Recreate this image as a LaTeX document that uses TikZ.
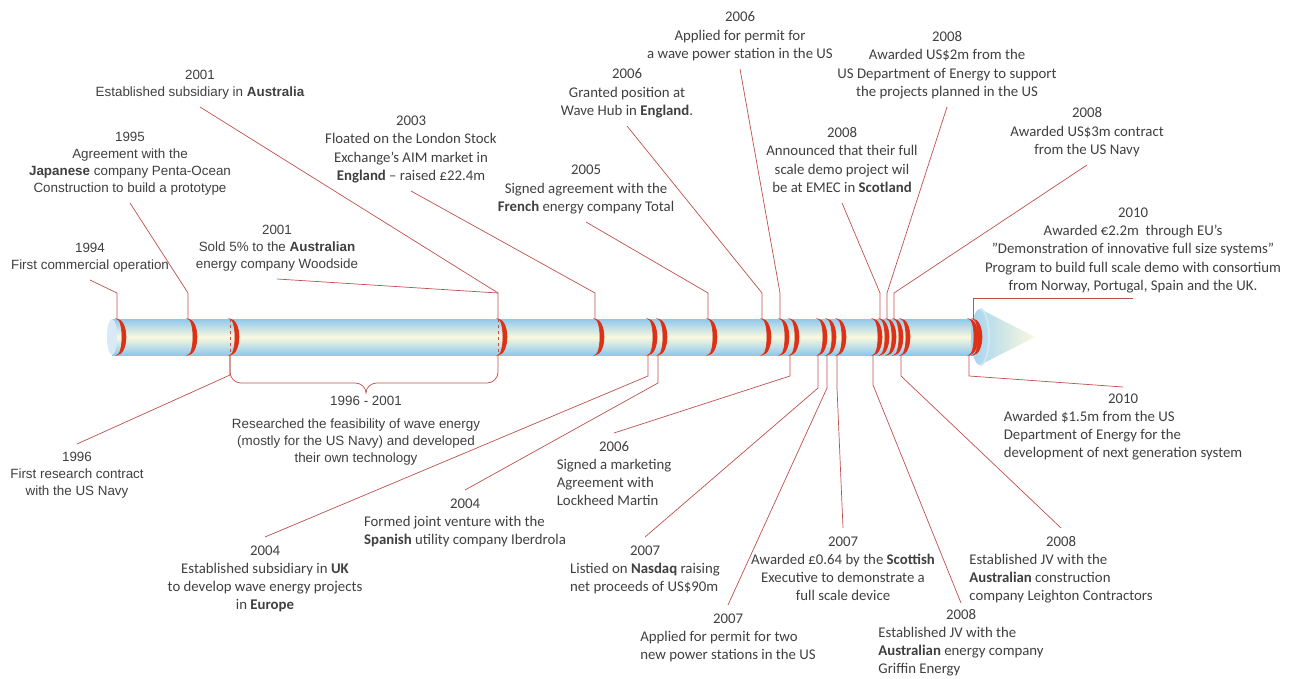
\documentclass[tikz,border=0pt]{standalone}
\usepackage{fontspec}
\usepackage{tikz}
\usetikzlibrary{positioning,calc}
\newfontfamily\arialfont{Liberation Sans}
\newfontfamily\calfont{Carlito}
\definecolor{txtgray}{RGB}{64,64,64}
\definecolor{ringred}{RGB}{222,48,22}
\definecolor{leadred}{RGB}{192,80,77}
\definecolor{tubeblue}{RGB}{143,200,236}
\definecolor{tubecream}{RGB}{250,249,222}
\definecolor{capblue}{RGB}{218,233,246}
\newcommand{\evc}[2]{\begin{tabular}{@{}c@{}}#1\\#2\end{tabular}}
\newcommand{\evl}[2]{\begin{tabular}{@{}l@{}}\multicolumn{1}{@{}c@{}}{#1}\\#2\end{tabular}}
\newcommand{\ring}[1]{\filldraw[ring] (#1,319) arc[start angle=-90, end angle=90, x radius=9, y radius=18] arc[start angle=90, end angle=-90, x radius=5, y radius=18] -- cycle;}

\begin{document}
\begin{tikzpicture}[x=1pt, y=-1pt,
    every node/.style={text=txtgray, inner sep=5pt},
    arl/.style={font=\arialfont\fontsize{13.4}{17}\selectfont},
    cal/.style={font=\calfont\fontsize{14.8}{18.3}\selectfont},
    ring/.style={fill=ringred, draw=ringred, line width=0.6pt},
    leader/.style={draw=leadred, line width=0.7pt}]
    \useasboundingbox (0,0) rectangle (1289,679);
    \fill[white] (0,0) rectangle (1289,679);

    % the tube and its head
    \shade[top color=tubeblue, bottom color=tubeblue, middle color=tubecream] (112,319) rectangle (978,355);
    \fill[capblue] (112,337) ellipse[x radius=5, y radius=18];
    \shade[left color=tubeblue!80, right color=tubecream] (980,309) -- (1035,337) -- (980,365) arc[start angle=90, end angle=270, x radius=9, y radius=28] -- cycle;
    \draw[white!55!tubeblue, line width=2pt] (980,309) arc[start angle=270, end angle=450, x radius=9, y radius=28];

    % rings
    \draw[leadred, dashed, line width=0.8pt] (230,319) -- (230,355);
    \draw[leadred, dashed, line width=0.8pt] (498,319) -- (498,355);
    \foreach \x/\n in {117/94, 188/95, 230/96, 498/01, 595/03, 648/04a, 658/04b, 708/05,
        762/06a, 780/06b, 790/06c, 818/07a, 827/07b, 837/07c,
        873/08a, 880/08b, 887/08c, 894/08d, 901/08e, 969/10a, 973/10b} {
        \ring{\x}
        \coordinate (r\n) at (\x,319);
        \coordinate (q\n) at (\x,355);
    }

    % events above the tube
    \node[arl, anchor=south] (t94) at (90,280) {\evc{1994}{First commercial operation}};
    \node[arl, anchor=south] (t95) at (130,203) {\evc{1995}{Agreement with the\\\textbf{Japanese} company Penta-Ocean\\Construction to build a prototype}};
    \node[arl, anchor=south] (t01a) at (200,107) {\evc{2001}{Established subsidiary in \textbf{Australia}}};
    \node[arl, anchor=south] (t01b) at (277,279) {\evc{2001}{Sold 5\% to the \textbf{Australian}\\energy company Woodside}};
    \node[cal, anchor=south] (t03) at (411,191) {\evc{2003}{Floated on the London Stock\\Exchange’s AIM market in\\\textbf{England} – raised £22.4m}};
    \node[cal, anchor=south] (t05) at (586,222) {\evc{2005}{Signed agreement with the\\\textbf{French} energy company Total}};
    \node[cal, anchor=south] (t06a) at (627,126) {\evc{2006}{Granted position at\\Wave Hub in \textbf{England}.}};
    \node[cal, anchor=south] (t06b) at (740,69) {\evc{2006}{Applied for permit for\\a wave power station in the US}};
    \node[cal, anchor=south] (t08a) at (842,203) {\evc{2008}{Announced that their full\\scale demo project wil\\be at EMEC in \textbf{Scotland}}};
    \node[cal, anchor=south] (t08b) at (947,107) {\evc{2008}{Awarded US\$2m from the\\US Department of Energy to support\\the projects planned in the US}};
    \node[cal, anchor=south] (t08c) at (1087,165) {\evc{2008}{Awarded US\$3m contract\\from the US Navy}};
    \node[cal, anchor=south, inner sep=2pt] (t10a) at (1133,298) {\evc{2010}{Awarded €2.2m\ \ through EU’s\\”Demonstration of innovative full size systems”\\Program to build full scale demo with consortium\\from Norway, Portugal, Spain and the UK.}};

    % events below the tube
    \node[arl, anchor=north] (b96) at (77,444) {\evc{1996}{First research contract\\with the US Navy}};
    \node[arl, anchor=north, inner sep=3pt] (lbl) at (366,393) {1996 - 2001};
    \node[arl, below=3pt of lbl, xshift=-10pt] (rsch) {\begin{tabular}{@{}c@{}}Researched the feasibility of wave energy\\(mostly for the US Navy) and developed\\their own technology\end{tabular}};
    \node[cal, anchor=north] (b04a) at (265,537) {\evc{2004}{Established subsidiary in \textbf{UK}\\to develop wave energy projects\\in \textbf{Europe}}};
    \node[cal, anchor=north] (b04b) at (465,490) {\evl{2004}{Formed joint venture with the\\\textbf{Spanish} utility company Iberdrola}};
    \node[cal, anchor=north] (b06) at (614,433) {\evl{2006}{Signed a marketing\\Agreement with\\Lockheed Martin}};
    \node[cal, anchor=north] (b07a) at (645,537) {\evl{2007}{Listied on \textbf{Nasdaq} raising\\net proceeds of US\$90m}};
    \node[cal, anchor=north] (b07b) at (728,605) {\evl{2007}{Applied for permit for two\\new power stations in the US}};
    \node[cal, anchor=north] (b07c) at (843,528) {\evc{2007}{Awarded £0.64 by the \textbf{Scottish}\\Executive to demonstrate a\\full scale device}};
    \node[cal, anchor=north, inner sep=3pt] (b08a) at (961,603) {\evl{2008}{Established JV with the\\\textbf{Australian} energy company\\Griffin Energy}};
    \node[cal, anchor=north] (b08b) at (1061,528) {\evl{2008}{Established JV with the\\\textbf{Australian} construction\\company Leighton Contractors}};
    \node[cal, anchor=north, inner sep=3pt] (b10) at (1123,387) {\evl{2010}{Awarded \$1.5m from the US\\Department of Energy for the\\development of next generation system}};

    % leaders
    \draw[leader] (r94) -- ++(0,-26) -- (t94.south);
    \draw[leader] (r95) -- ++(0,-26) -- (t95.south);
    \draw[leader] (r01) -- ++(0,-26) coordinate (k01) -- (t01a.south);
    \draw[leader] (k01) -- (t01b.south);
    \draw[leader] (r03) -- ++(0,-26) -- (t03.south);
    \draw[leader] (r05) -- ++(0,-26) -- (t05.south);
    \draw[leader] (r06a) -- ++(0,-26) -- (t06a.south);
    \draw[leader] (r06b) -- ++(0,-26) -- (t06b.south);
    \draw[leader] (r08b) -- ++(0,-26) -- (t08a.south);
    \draw[leader] (r08c) -- ++(0,-26) -- (t08b.south);
    \draw[leader] (r08d) -- ++(0,-26) -- (t08c.south);
    \draw[leader] (r10b) |- (t10a.south);

    \draw[leader] (q96) -- ++(0,20) -- (b96.north);
    \draw[leader] (q96) -- ++(0,17) to[out=-90, in=180] ++(11,11) -- (355,383) to[out=0, in=90] (366,393)
        to[out=90, in=180] (377,383) -- (487,383) to[out=0, in=-90] ++(11,-11) -- (q01);
    \draw[leader] (q04a) -- ++(0,21) -- (b04a.north);
    \draw[leader] (q04b) -- ++(0,28) -- (b04b.north);
    \draw[leader] (q06c) -- ++(0,21) -- (b06.north);
    \draw[leader] (q07a) -- ++(0,33) -- (b07a.north);
    \draw[leader] (q07b) -- ++(0,33) -- (b07b.north);
    \draw[leader] (q07c) -- ++(0,33) -- (b07c.north);
    \draw[leader] (q08a) -- ++(0,30) -- (b08a.north);
    \draw[leader] (q08e) -- ++(0,21) -- (b08b.north);
    \draw[leader] (q10a) -- ++(0,21) -- (b10.north);
\end{tikzpicture}
\end{document}
